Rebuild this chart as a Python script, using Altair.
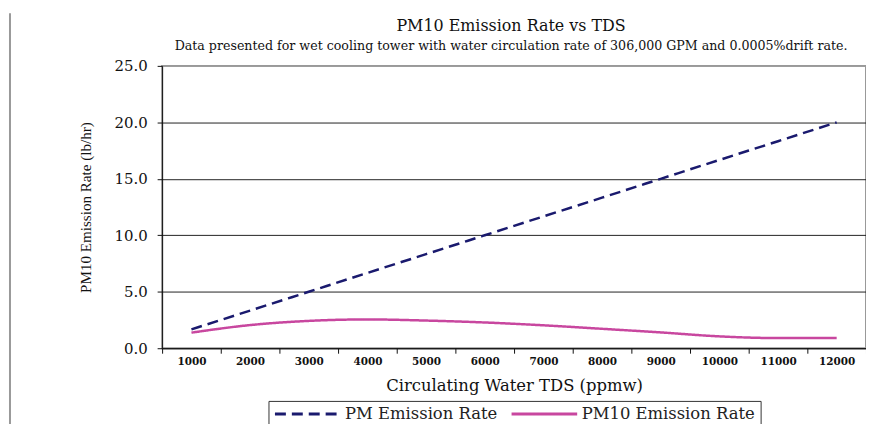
import altair as alt
import pandas as pd

tds = [1000, 2000, 3000, 4000, 5000, 6000, 7000, 8000, 9000, 10000, 11000, 12000]
pm = [1.67, 3.33, 5.0, 6.67, 8.33, 10.0, 11.67, 13.33, 15.0, 16.67, 18.33, 20.0]
pm10 = [1.38, 2.05, 2.42, 2.55, 2.45, 2.28, 2.03, 1.72, 1.40, 1.05, 0.90, 0.90]
series = ["PM Emission Rate", "PM10 Emission Rate"]
y_ticks = [0, 5, 10, 15, 20, 25]
title_text = "PM10 Emission Rate vs TDS"
subtitle_text = "Data presented for wet cooling tower with water circulation rate of 306,000 GPM and 0.0005%drift rate."

rows = []
for t, a, b in zip(tds, pm, pm10):
    rows.append({"TDS": t, "Series": series[0], "Rate": a})
    rows.append({"TDS": t, "Series": series[1], "Rate": b})
df = pd.DataFrame(rows)

legend = alt.Legend(
    title=None, orient="none", legendX=107, legendY=337, direction="horizontal",
    symbolType="stroke", symbolSize=4356, symbolStrokeWidth=3, clipHeight=16,
    labelFont="DejaVu Serif", labelFontSize=16.5, labelColor="#222", labelLimit=400,
    strokeColor="#333", padding=5, columnPadding=12, labelOffset=3,
)

lines = alt.Chart(df).mark_line(strokeWidth=2.5, interpolate="monotone").encode(
    x=alt.X("TDS:O", sort=tds, bandPosition=0.5,
            scale=alt.Scale(type="band", paddingInner=0, paddingOuter=0),
            axis=alt.Axis(title="Circulating Water TDS (ppmw)", labelAngle=0,
                          labelFont="DejaVu Serif", labelFontWeight="bold",
                          labelFontSize=10.5, labelColor="#111", labelPadding=3,
                          tickBand="extent", tickSize=5, tickColor="#111",
                          domainColor="#111", grid=False,
                          titleFont="DejaVu Serif", titleFontSize=16.5,
                          titleFontWeight="normal", titleColor="#111",
                          titleY=38, titleBaseline="middle")),
    y=alt.Y("Rate:Q", scale=alt.Scale(domain=[0, 25], nice=False),
            axis=alt.Axis(values=y_ticks, format=".1f", title="PM10 Emission Rate (lb/hr)",
                          labelFont="DejaVu Serif", labelFontSize=15, labelColor="#111",
                          labelPadding=10, tickSize=5, tickColor="#111",
                          domainColor="#111",
                          gridColor={"condition": {"test": "datum.value === 25", "value": "#999999"}, "value": "#222222"},
                          gridWidth=1,
                          titleFont="Liberation Serif", titleFontSize=15.2,
                          titleFontWeight="normal", titleColor="#111",
                          titleX=-77, titleBaseline="middle")),
    color=alt.Color("Series:N", scale=alt.Scale(domain=series, range=["#1a1a6e", "#c8479f"]), legend=legend),
    strokeDash=alt.StrokeDash("Series:N", scale=alt.Scale(domain=series, range=[[11, 6], [1, 0]]), legend=legend),
)

one = pd.DataFrame({"k": [0]})
edge = alt.Chart(one).mark_rule(color="#999999", strokeWidth=2).encode(
    x=alt.value(-153), y=alt.value(-53), y2=alt.value(365)
)
title = alt.Chart(one).mark_text(font="DejaVu Serif", fontSize=16, color="#111", align="center", baseline="alphabetic").encode(
    x=alt.value(351), y=alt.value(-35), text=alt.value(title_text)
)
subtitle = alt.Chart(one).mark_text(font="DejaVu Serif", fontSize=12.7, color="#111", align="center", baseline="alphabetic").encode(
    x=alt.value(351), y=alt.value(-16), text=alt.value(subtitle_text)
)

chart = alt.layer(edge, title, subtitle, lines).properties(
    width=708, height=284,
    autosize=alt.AutoSizeParams(type="none"),
    padding={"left": 155, "top": 57, "right": 0, "bottom": 75},
).configure_view(stroke="#999999", strokeWidth=2)

chart.save("out.html", embed_options={"renderer": "svg", "actions": False})
